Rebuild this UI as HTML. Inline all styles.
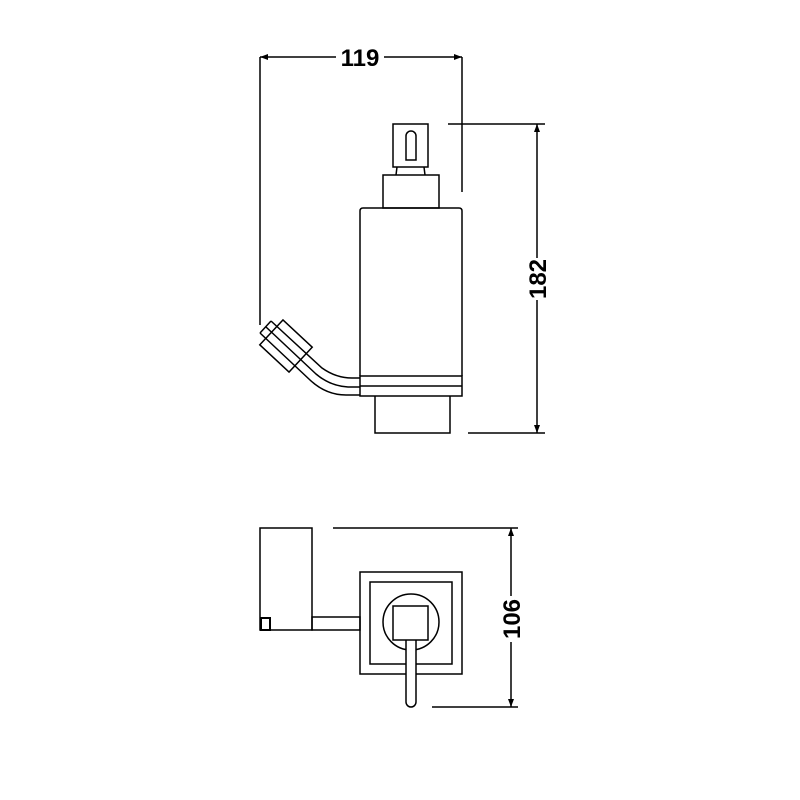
<!DOCTYPE html>
<html><head><style>
html,body{margin:0;padding:0;background:#fff;}
svg{display:block;}
text{font-family:"Liberation Sans",sans-serif;font-weight:bold;font-size:24px;fill:#000;}
</style></head><body>
<svg width="800" height="800" viewBox="0 0 800 800" xmlns="http://www.w3.org/2000/svg">
<g fill="none" stroke="#000" stroke-width="1.5">
<line x1="260" y1="57" x2="336" y2="57"/>
<line x1="384" y1="57" x2="462" y2="57"/>
<line x1="260" y1="57" x2="260" y2="325"/>
<line x1="462" y1="57" x2="462" y2="192"/>
<rect x="393" y="124" width="35" height="43"/>
<path d="M406 160 V136 a5 5 0 0 1 10 0 V160 Z"/>
<line x1="397" y1="167" x2="396" y2="175"/>
<line x1="424" y1="167" x2="425" y2="175"/>
<rect x="383" y="175" width="56" height="33"/>
<path d="M360 376 V211 q0 -3 3 -3 H459 q3 0 3 3 V376"/>
<rect x="360" y="376" width="102" height="20"/>
<line x1="360" y1="386" x2="462" y2="386"/>
<path d="M375 396 V433 H450 V396"/>
<!-- bracket block -->
<g transform="translate(286,346) rotate(43)">
<rect x="-20" y="-17" width="40" height="34" fill="#fff"/>
</g>
<!-- arm -->
<path d="M271 321 L322 368 Q336 378 352 378 H360"/>
<path d="M266 327 L316 374 Q330 386 348 387 H360"/>
<path d="M260 333 L310 380 Q326 395 346 395 H360"/>
<path d="M271 321 L260 333"/>
<line x1="537" y1="124" x2="537" y2="258"/>
<line x1="448" y1="124" x2="545" y2="124"/>
<line x1="468" y1="433" x2="545" y2="433"/>
<line x1="537" y1="300" x2="537" y2="433"/>
<rect x="260" y="528" width="52" height="102"/>
<rect x="261" y="618" width="9" height="12" stroke-width="2"/>
<rect x="312" y="617" width="48" height="13"/>
<rect x="360" y="572" width="102" height="102"/>
<rect x="370" y="582" width="82" height="82"/>
<circle cx="411" cy="622" r="28"/>
<path d="M406 640 V702 a5 5 0 0 0 10 0 V640" fill="#fff"/>
<rect x="393" y="606" width="35" height="34" fill="#fff"/>
<line x1="333" y1="528" x2="518" y2="528"/>
<line x1="432" y1="707" x2="518" y2="707"/>
<line x1="511" y1="528" x2="511" y2="596"/>
<line x1="511" y1="642" x2="511" y2="707"/>
</g>
<g fill="#000">
<path d="M260 57 l8 -3 v6 z"/><path d="M462 57 l-8 -3 v6 z"/>
<path d="M537 124 l-3 8 h6 z"/><path d="M537 433 l-3 -8 h6 z"/>
<path d="M511 528 l-3 8 h6 z"/><path d="M511 707 l-3 -8 h6 z"/>
</g>
<text x="360" y="66" text-anchor="middle">119</text>
<text transform="translate(546,279) rotate(-90)" text-anchor="middle">182</text>
<text transform="translate(520,619) rotate(-90)" text-anchor="middle">106</text>
</svg>
</body></html>
